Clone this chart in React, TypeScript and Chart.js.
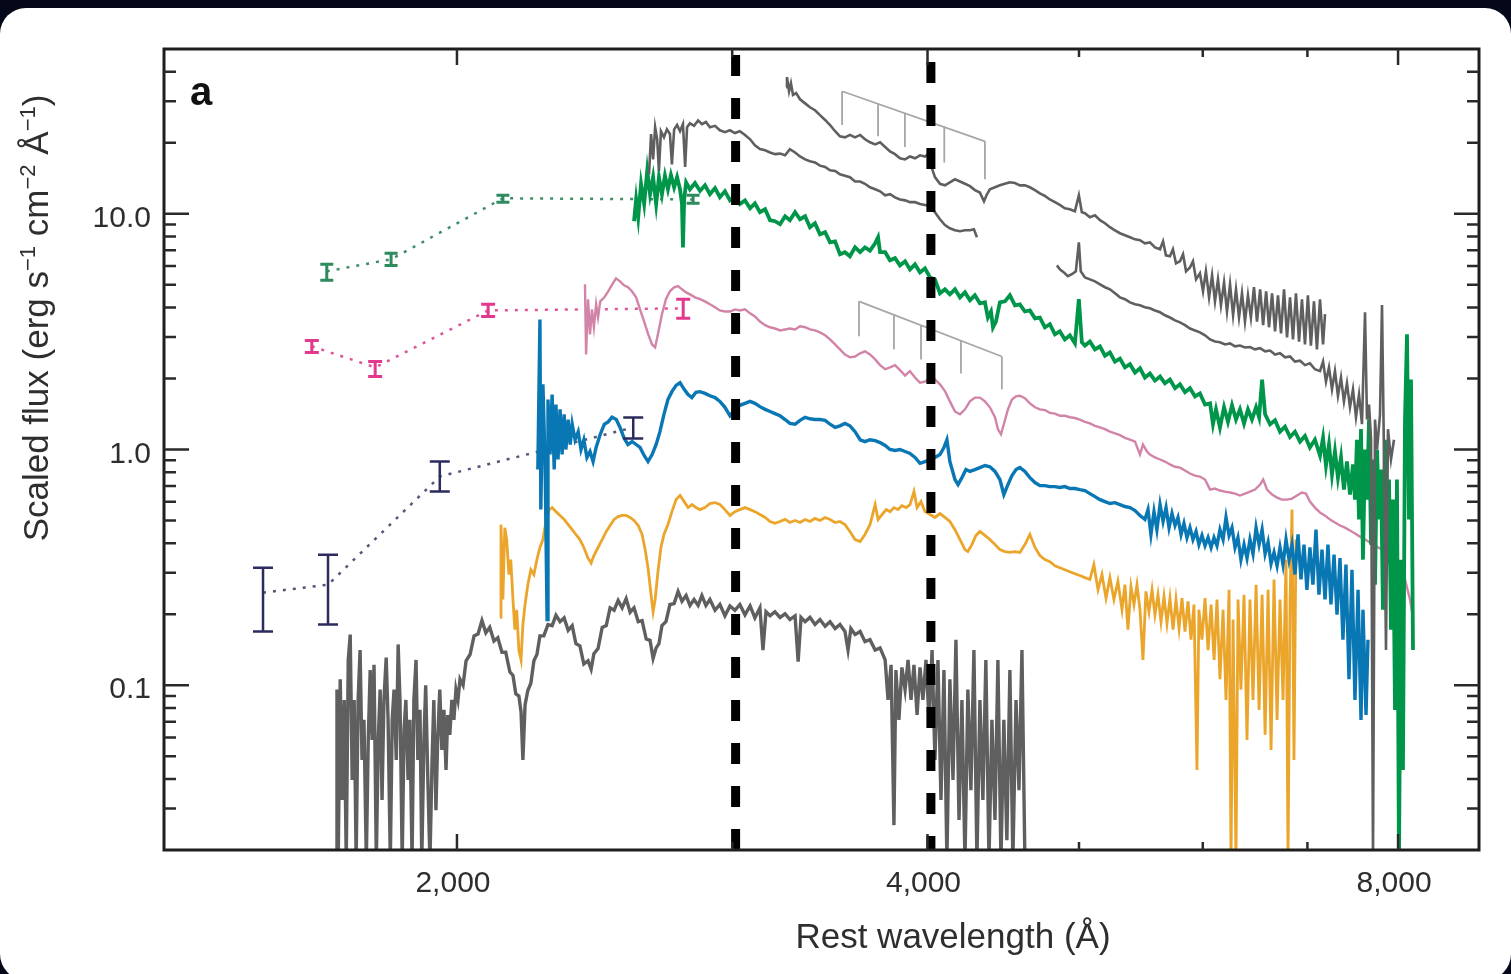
import React, { useEffect, useRef } from 'react';
import { Chart, registerables } from 'chart.js';

Chart.register(...registerables);

// ---------- axis definitions ----------
const xMin = 1299;
const xMax = 9013;
const yMin = 0.02;
const yMax = 50;
const xMajorTicks = [2000, 4000, 8000];
const xMajorLabels = ['2,000', '4,000', '8,000'];
const xMinorTicks = [3000, 5000, 6000, 7000];
const yMajorTicks = [0.1, 1, 10];
const yMajorLabels = ['0.1', '1.0', '10.0'];
const yMinorTicks = [0.03, 0.04, 0.05, 0.06, 0.07, 0.08, 0.09, 0.2, 0.3, 0.4, 0.5, 0.6, 0.7, 0.8, 0.9, 2, 3, 4, 5, 6, 7, 8, 9, 20, 30, 40];
const xTitle = 'Rest wavelength (Å)';
const panelLabel = 'a';

// ---------- vertical marker lines (Å) ----------
const markerWaves = [3015, 4020];

// ---------- line-identification combs ----------
const combUpperWave = [3527, 3719, 3869, 4100, 4353];
const combUpperTop = [33.1, 29.2, 26.7, 23.5, 20.3];
const combUpperBottom = [23.8, 21.3, 19.2, 16.5, 14.0];
const combLowerWave = [3616, 3807, 3962, 4202, 4463];
const combLowerTop = [4.25, 3.73, 3.37, 2.9, 2.48];
const combLowerBottom = [3.02, 2.66, 2.41, 2.1, 1.8];

// ---------- photometry ----------
const photGreenWave = [1651, 1815, 2140, 2832];
const photGreenFlux = [5.7, 6.41, 11.63, 11.5];
const photGreenLow = [5.22, 6.04, 11.19, 11.07];
const photGreenHigh = [6.1, 6.8, 11.98, 11.98];

const photPinkWave = [1615, 1773, 2094, 2791];
const photPinkFlux = [2.74, 2.23, 3.89, 3.97];
const photPinkLow = [2.58, 2.04, 3.67, 3.6];
const photPinkHigh = [2.9, 2.36, 4.13, 4.34];

const photNavyWave = [1503, 1654, 1950, 2593];
const photNavyFlux = [0.247, 0.267, 0.768, 1.24];
const photNavyLow = [0.169, 0.181, 0.663, 1.114];
const photNavyHigh = [0.315, 0.358, 0.889, 1.367];

// ---------- spectra: [wavelength Å, scaled flux] ----------
const grayTopA = [[2654,14.7],[2662,21.8],[2670,17.0],[2678,23.3],[2686,20.7],[2693,15.2],[2701,22.4],[2713,21.1],[2725,22.8],[2737,21.8],[2745,16.2],[2754,22.8],[2766,23.8],[2778,22.4],[2790,24.0],[2799,15.8],[2807,23.3],[2819,24.2],[2836,23.6],[2853,24.9],[2869,24.0],[2886,24.5],[2903,23.3],[2925,23.6],[2946,22.6],[2968,22.2],[2990,22.6],[3012,22.0],[3034,22.4],[3057,21.6],[3080,20.7],[3102,19.5],[3125,18.8],[3149,18.6],[3172,18.2],[3195,17.9],[3219,18.0],[3243,17.7],[3266,18.8],[3291,18.2],[3315,17.5],[3340,17.0],[3364,16.7],[3389,16.5],[3414,16.0],[3440,15.8],[3465,15.3],[3491,15.2],[3516,14.7],[3542,14.5],[3568,14.3],[3595,13.7],[3622,13.7],[3648,13.4],[3675,12.95],[3703,12.7],[3730,12.45],[3758,11.98],[3785,12.1],[3813,11.74],[3841,11.5],[3870,11.4],[3898,11.2],[3927,11.2],[3956,11.0],[3985,10.9],[4015,10.8],[4044,10.15],[4074,9.48],[4104,8.95],[4134,8.68],[4165,8.51],[4196,8.43],[4227,8.51],[4258,8.51],[4283,8.6],[4302,7.95]];

const grayTopB = [[3248,34.4],[3252,38.0],[3262,33.1],[3271,35.8],[3281,31.9],[3296,32.5],[3315,30.6],[3340,29.4],[3364,28.3],[3389,27.5],[3414,26.2],[3440,25.0],[3465,23.8],[3491,22.4],[3516,21.3],[3542,21.1],[3568,21.6],[3595,21.1],[3622,21.6],[3648,20.7],[3675,20.1],[3703,19.7],[3730,20.1],[3758,19.2],[3785,18.4],[3813,17.9],[3841,17.2],[3870,17.0],[3898,17.5],[3927,17.2],[3956,17.7],[3985,17.5],[4003,17.9],[4027,15.5],[4044,14.3],[4074,13.4],[4104,13.2],[4134,13.6],[4165,14.0],[4196,13.7],[4227,13.4],[4258,13.1],[4289,12.6],[4321,12.3],[4347,11.3],[4366,12.1],[4385,12.7],[4418,12.95],[4450,13.2],[4483,13.4],[4516,13.6],[4550,13.5],[4583,13.2],[4617,13.2],[4651,12.95],[4686,12.6],[4720,12.2],[4755,11.9],[4790,11.5],[4826,11.2],[4861,10.9],[4897,10.55],[4933,10.45],[4970,10.25],[4999,11.98],[5021,10.15],[5044,10.05],[5081,9.66],[5119,9.85],[5157,9.39],[5195,9.12],[5233,8.77],[5272,8.51],[5311,8.27],[5350,8.11],[5390,7.95],[5430,7.79],[5470,7.72],[5510,7.49],[5551,7.56],[5592,7.2],[5634,7.07],[5659,7.64],[5683,6.66],[5717,6.6],[5742,7.07],[5768,6.16],[5802,6.29],[5828,6.73],[5854,5.7],[5888,5.92],[5914,6.29],[5941,5.27],[5975,5.59],[6002,4.69],[6028,5.7],[6056,4.42],[6083,5.48],[6109,4.25],[6136,5.27],[6163,4.09],[6191,5.11],[6218,3.85],[6246,5.02],[6274,3.71],[6301,4.78],[6329,3.63],[6357,4.6],[6385,3.49],[6413,4.51],[6441,3.63],[6470,4.88],[6499,3.49],[6529,4.78],[6558,3.37],[6587,4.69],[6615,3.3],[6645,4.6],[6674,3.17],[6703,4.51],[6733,3.11],[6763,4.78],[6793,2.99],[6823,4.42],[6853,2.93],[6883,4.6],[6914,2.87],[6944,4.34],[6975,2.79],[7005,4.51],[7036,2.76],[7068,4.25],[7099,2.66],[7131,4.34],[7163,2.79],[7184,3.75]];

const grayMidC = [[4840,6.04],[4861,5.81],[4890,5.64],[4918,5.43],[4948,5.54],[4977,5.7],[4999,7.56],[5013,5.7],[5044,5.37],[5081,5.27],[5119,5.17],[5157,5.02],[5195,4.88],[5233,4.78],[5272,4.6],[5311,4.42],[5350,4.34],[5390,4.21],[5430,4.13],[5470,4.09],[5510,4.01],[5551,3.97],[5592,3.89],[5634,3.82],[5675,3.71],[5717,3.63],[5760,3.53],[5802,3.46],[5845,3.37],[5888,3.26],[5932,3.2],[5975,3.14],[6020,3.05],[6065,2.93],[6109,2.87],[6154,2.85],[6200,2.79],[6246,2.82],[6292,2.74],[6338,2.76],[6385,2.71],[6432,2.72],[6480,2.66],[6529,2.69],[6577,2.61],[6625,2.63],[6674,2.53],[6723,2.56],[6773,2.46],[6823,2.48],[6873,2.36],[6924,2.38],[6975,2.28],[7026,2.32],[7078,2.19],[7131,2.15],[7163,2.36],[7194,1.94],[7226,2.23],[7258,1.8],[7290,2.15],[7322,1.69],[7355,2.02],[7387,1.6],[7420,1.91],[7453,1.51],[7486,1.8],[7519,1.37],[7553,1.71],[7586,1.28],[7620,3.82],[7642,1.34],[7665,1.55],[7688,1.1],[7710,0.018],[7733,1.34],[7756,1.0],[7790,1.41],[7813,4.1],[7835,1.0],[7859,0.141],[7882,1.22],[7917,0.907],[7952,1.1]];

const greenSpec = [[2596,9.3],[2604,11.5],[2612,9.66],[2623,13.4],[2635,11.0],[2647,15.2],[2658,12.1],[2670,14.3],[2682,11.0],[2693,14.3],[2705,12.1],[2717,14.5],[2729,12.7],[2741,14.6],[2754,12.95],[2766,14.3],[2778,12.7],[2786,11.0],[2790,7.2],[2795,11.5],[2803,13.6],[2819,12.7],[2840,13.5],[2861,12.5],[2882,13.2],[2903,12.1],[2925,12.85],[2946,11.75],[2968,12.45],[2990,11.4],[3012,11.9],[3034,11.0],[3057,11.4],[3080,10.55],[3102,11.07],[3125,10.15],[3149,10.45],[3172,9.39],[3195,9.3],[3219,9.03],[3243,9.76],[3266,9.39],[3291,10.15],[3315,9.48],[3340,9.76],[3364,8.77],[3389,9.12],[3414,8.19],[3440,8.35],[3465,7.56],[3491,7.64],[3516,6.73],[3542,6.87],[3568,6.6],[3595,7.2],[3622,6.87],[3648,7.2],[3675,6.98],[3703,7.49],[3719,7.95],[3730,6.87],[3758,6.87],[3785,6.35],[3813,6.48],[3841,6.04],[3870,6.29],[3898,5.81],[3927,6.1],[3956,5.64],[3985,5.87],[4015,5.37],[4044,5.27],[4074,4.6],[4104,4.78],[4134,4.55],[4165,4.78],[4196,4.42],[4227,4.64],[4258,4.3],[4289,4.51],[4321,4.17],[4353,4.21],[4372,3.63],[4392,3.85],[4405,3.3],[4424,3.49],[4450,4.21],[4483,4.25],[4516,4.51],[4550,4.09],[4583,4.13],[4617,3.85],[4651,3.89],[4686,3.6],[4720,3.63],[4755,3.3],[4790,3.4],[4826,3.08],[4861,3.17],[4897,2.93],[4933,3.05],[4970,2.82],[4999,4.34],[5021,2.85],[5044,2.76],[5081,2.87],[5119,2.66],[5157,2.74],[5195,2.5],[5233,2.58],[5272,2.36],[5311,2.43],[5350,2.23],[5390,2.3],[5430,2.12],[5470,2.21],[5510,2.02],[5551,2.1],[5592,1.96],[5634,2.04],[5675,1.91],[5717,1.98],[5760,1.82],[5802,1.89],[5845,1.75],[5888,1.82],[5932,1.68],[5975,1.73],[6020,1.55],[6065,1.57],[6091,1.28],[6118,1.48],[6154,1.24],[6191,1.51],[6227,1.31],[6264,1.54],[6301,1.34],[6338,1.48],[6376,1.29],[6413,1.48],[6451,1.34],[6490,1.51],[6519,1.37],[6548,1.98],[6577,1.41],[6625,1.28],[6674,1.33],[6723,1.19],[6773,1.25],[6823,1.13],[6873,1.19],[6924,1.08],[6975,1.14],[7026,1.02],[7078,1.1],[7131,0.943],[7163,1.12],[7194,0.855],[7226,1.05],[7258,0.783],[7290,0.981],[7322,0.76],[7355,0.925],[7387,0.676],[7420,0.889],[7453,0.644],[7486,0.864],[7508,0.613],[7530,1.1],[7553,0.505],[7575,1.22],[7597,0.341],[7620,1.0],[7642,0.613],[7665,1.34],[7688,0.395],[7710,0.907],[7733,0.267],[7756,1.0],[7779,0.505],[7801,0.822],[7824,0.209],[7847,1.1],[7870,0.325],[7894,0.746],[7917,0.172],[7940,0.613],[7964,0.0786],[7987,0.746],[8011,0.018],[8035,0.341],[8058,0.0437],[8082,1.34],[8106,3.08],[8130,0.505],[8154,1.98],[8178,0.141]];

const pinkSpec = [[2415,5.02],[2419,2.53],[2426,4.34],[2433,3.08],[2440,3.93],[2447,3.3],[2455,4.13],[2462,3.63],[2470,4.25],[2485,4.42],[2499,4.69],[2514,5.02],[2528,5.32],[2543,5.17],[2558,4.97],[2573,4.88],[2588,4.69],[2604,4.42],[2619,3.93],[2635,3.49],[2651,3.08],[2666,2.79],[2678,2.71],[2689,3.08],[2705,3.75],[2721,4.34],[2737,4.69],[2754,4.88],[2770,4.93],[2786,4.78],[2803,4.64],[2819,4.55],[2840,4.42],[2861,4.34],[2882,4.25],[2903,4.13],[2925,4.01],[2946,3.89],[2968,3.85],[2990,3.85],[3012,3.93],[3034,3.89],[3057,3.93],[3080,3.78],[3102,3.67],[3125,3.49],[3149,3.37],[3172,3.3],[3195,3.26],[3219,3.2],[3243,3.23],[3266,3.26],[3291,3.23],[3315,3.33],[3340,3.3],[3364,3.23],[3389,3.2],[3414,3.14],[3440,3.05],[3465,2.93],[3491,2.79],[3516,2.66],[3542,2.53],[3568,2.46],[3595,2.48],[3622,2.56],[3648,2.61],[3675,2.53],[3703,2.41],[3730,2.28],[3758,2.19],[3785,2.23],[3813,2.28],[3841,2.17],[3870,2.06],[3898,2.15],[3927,2.02],[3956,1.92],[3985,1.94],[4015,2.02],[4044,1.98],[4074,1.89],[4104,1.77],[4134,1.6],[4165,1.45],[4196,1.41],[4227,1.48],[4258,1.6],[4289,1.66],[4321,1.66],[4353,1.6],[4385,1.51],[4418,1.37],[4437,1.22],[4457,1.16],[4476,1.28],[4503,1.48],[4530,1.63],[4557,1.68],[4583,1.69],[4617,1.65],[4651,1.57],[4686,1.51],[4720,1.48],[4755,1.47],[4790,1.43],[4826,1.42],[4861,1.39],[4897,1.39],[4933,1.37],[4970,1.36],[5006,1.34],[5044,1.31],[5081,1.29],[5119,1.26],[5157,1.24],[5195,1.22],[5233,1.19],[5272,1.17],[5311,1.15],[5350,1.12],[5390,1.1],[5430,1.08],[5470,0.952],[5494,1.05],[5526,0.981],[5551,0.952],[5592,0.925],[5634,0.907],[5675,0.889],[5717,0.864],[5760,0.845],[5802,0.838],[5845,0.814],[5888,0.791],[5932,0.775],[5975,0.768],[6020,0.746],[6065,0.676],[6109,0.683],[6154,0.67],[6200,0.663],[6246,0.657],[6292,0.65],[6338,0.638],[6385,0.65],[6432,0.663],[6480,0.676],[6529,0.71],[6558,0.746],[6596,0.676],[6645,0.644],[6694,0.625],[6743,0.613],[6793,0.613],[6843,0.619],[6893,0.638],[6944,0.657],[6985,0.65],[7026,0.601],[7078,0.567],[7131,0.54],[7184,0.524],[7237,0.505],[7290,0.49],[7344,0.476],[7398,0.466],[7453,0.453],[7508,0.44],[7564,0.427],[7620,0.415],[7676,0.403],[7733,0.391],[7790,0.38],[7847,0.369],[7905,0.355],[7964,0.334],[8023,0.315],[8082,0.281],[8142,0.231],[8178,0.194]];

const blueSpec = [[2253,0.822],[2260,3.56],[2263,0.556],[2270,1.89],[2277,0.907],[2284,0.19],[2287,1.63],[2294,0.952],[2301,1.71],[2308,0.822],[2314,1.55],[2321,0.907],[2328,1.48],[2335,0.952],[2342,1.41],[2348,1.0],[2356,1.34],[2363,1.05],[2370,1.28],[2380,1.1],[2391,1.19],[2401,1.0],[2411,1.1],[2422,0.925],[2433,0.981],[2444,0.889],[2455,1.02],[2470,1.16],[2485,1.28],[2499,1.31],[2513,1.37],[2529,1.34],[2543,1.24],[2558,1.12],[2573,1.05],[2589,1.08],[2604,1.05],[2619,1.02],[2635,0.943],[2650,0.889],[2666,0.952],[2682,1.05],[2697,1.19],[2713,1.41],[2729,1.63],[2745,1.76],[2762,1.87],[2778,1.92],[2795,1.8],[2811,1.71],[2827,1.66],[2844,1.75],[2861,1.76],[2882,1.73],[2903,1.69],[2925,1.66],[2946,1.6],[2968,1.51],[2990,1.39],[3012,1.48],[3034,1.54],[3057,1.57],[3080,1.6],[3102,1.57],[3125,1.52],[3149,1.48],[3172,1.45],[3195,1.42],[3219,1.39],[3243,1.34],[3266,1.29],[3291,1.28],[3315,1.33],[3340,1.37],[3364,1.35],[3389,1.34],[3414,1.34],[3440,1.33],[3465,1.28],[3491,1.24],[3516,1.26],[3542,1.29],[3568,1.26],[3595,1.19],[3622,1.1],[3648,1.08],[3675,1.1],[3703,1.09],[3730,1.07],[3758,1.04],[3785,1.0],[3813,0.99],[3841,1.0],[3870,0.981],[3898,0.962],[3927,0.925],[3956,0.874],[3985,0.889],[4015,0.907],[4044,0.925],[4074,0.952],[4098,1.02],[4116,1.1],[4134,0.889],[4165,0.746],[4184,0.71],[4208,0.76],[4233,0.822],[4258,0.807],[4289,0.822],[4321,0.838],[4353,0.855],[4385,0.845],[4418,0.807],[4450,0.746],[4476,0.644],[4503,0.71],[4530,0.775],[4557,0.822],[4583,0.838],[4617,0.807],[4651,0.76],[4686,0.724],[4720,0.703],[4755,0.703],[4790,0.696],[4826,0.696],[4861,0.69],[4897,0.696],[4933,0.683],[4970,0.683],[5006,0.676],[5044,0.67],[5081,0.65],[5119,0.631],[5157,0.613],[5195,0.601],[5233,0.59],[5272,0.595],[5311,0.584],[5350,0.573],[5390,0.567],[5430,0.551],[5470,0.525],[5510,0.505],[5535,0.556],[5559,0.436],[5584,0.545],[5608,0.457],[5634,0.584],[5659,0.495],[5684,0.567],[5709,0.466],[5734,0.535],[5760,0.476],[5785,0.515],[5811,0.436],[5836,0.486],[5862,0.423],[5888,0.466],[5914,0.415],[5941,0.449],[5966,0.395],[5993,0.432],[6020,0.391],[6047,0.423],[6074,0.384],[6100,0.423],[6127,0.391],[6154,0.457],[6182,0.415],[6209,0.515],[6237,0.432],[6264,0.466],[6292,0.384],[6319,0.423],[6347,0.341],[6376,0.395],[6404,0.346],[6432,0.415],[6461,0.361],[6490,0.466],[6519,0.395],[6548,0.457],[6577,0.361],[6606,0.405],[6635,0.328],[6664,0.366],[6694,0.321],[6723,0.384],[6753,0.325],[6783,0.415],[6813,0.341],[6843,0.395],[6873,0.295],[6904,0.436],[6934,0.281],[6965,0.395],[6995,0.254],[7026,0.384],[7057,0.267],[7089,0.457],[7120,0.242],[7152,0.376],[7184,0.231],[7215,0.395],[7247,0.22],[7280,0.358],[7312,0.199],[7344,0.346],[7376,0.156],[7409,0.325],[7442,0.106],[7475,0.309],[7508,0.0866],[7542,0.254],[7575,0.0713],[7597,0.209],[7631,0.0748],[7653,0.156]];

const orangeSpec = [[2131,0.194],[2134,0.48],[2140,0.231],[2146,0.466],[2152,0.415],[2159,0.295],[2165,0.341],[2172,0.231],[2178,0.172],[2184,0.209],[2191,0.141],[2198,0.128],[2204,0.181],[2211,0.22],[2220,0.267],[2230,0.309],[2240,0.295],[2250,0.341],[2260,0.384],[2270,0.415],[2280,0.495],[2291,0.556],[2301,0.567],[2314,0.545],[2328,0.525],[2342,0.505],[2356,0.48],[2370,0.457],[2383,0.436],[2397,0.415],[2411,0.384],[2426,0.346],[2437,0.33],[2447,0.355],[2462,0.384],[2477,0.415],[2492,0.449],[2506,0.476],[2521,0.505],[2536,0.519],[2551,0.525],[2566,0.525],[2581,0.515],[2596,0.5],[2612,0.476],[2627,0.436],[2639,0.376],[2651,0.309],[2662,0.242],[2670,0.205],[2678,0.231],[2690,0.309],[2701,0.384],[2713,0.436],[2729,0.48],[2745,0.545],[2762,0.613],[2778,0.638],[2795,0.601],[2811,0.567],[2828,0.584],[2844,0.567],[2861,0.556],[2882,0.567],[2903,0.59],[2925,0.595],[2946,0.584],[2968,0.556],[2990,0.525],[3012,0.545],[3034,0.556],[3057,0.567],[3080,0.556],[3102,0.545],[3125,0.53],[3149,0.515],[3172,0.495],[3195,0.486],[3219,0.495],[3243,0.505],[3266,0.49],[3291,0.5],[3315,0.49],[3340,0.505],[3364,0.495],[3389,0.51],[3414,0.5],[3440,0.515],[3465,0.505],[3491,0.49],[3516,0.495],[3542,0.48],[3568,0.449],[3595,0.415],[3622,0.407],[3648,0.436],[3675,0.48],[3703,0.584],[3719,0.505],[3741,0.53],[3764,0.556],[3785,0.545],[3807,0.567],[3830,0.556],[3852,0.578],[3876,0.567],[3898,0.584],[3921,0.663],[3939,0.567],[3962,0.601],[3985,0.545],[4015,0.53],[4044,0.515],[4074,0.535],[4104,0.515],[4134,0.495],[4165,0.457],[4196,0.415],[4227,0.376],[4245,0.369],[4270,0.395],[4296,0.432],[4321,0.449],[4353,0.432],[4385,0.415],[4418,0.395],[4450,0.376],[4483,0.369],[4516,0.366],[4550,0.369],[4583,0.366],[4617,0.395],[4651,0.436],[4686,0.384],[4720,0.355],[4755,0.341],[4790,0.334],[4826,0.321],[4861,0.315],[4897,0.309],[4933,0.303],[4970,0.297],[5006,0.292],[5044,0.286],[5081,0.281],[5111,0.325],[5142,0.254],[5172,0.295],[5203,0.234],[5233,0.286],[5264,0.231],[5295,0.276],[5327,0.209],[5350,0.267],[5374,0.172],[5398,0.262],[5422,0.22],[5446,0.267],[5470,0.209],[5494,0.128],[5518,0.25],[5543,0.205],[5568,0.254],[5592,0.199],[5617,0.242],[5642,0.186],[5667,0.238],[5692,0.183],[5717,0.234],[5743,0.172],[5768,0.231],[5794,0.174],[5819,0.234],[5845,0.169],[5871,0.227],[5897,0.156],[5923,0.22],[5949,0.0437],[5966,0.209],[5993,0.156],[6020,0.234],[6047,0.141],[6074,0.22],[6101,0.128],[6127,0.231],[6154,0.106],[6182,0.209],[6209,0.0866],[6237,0.254],[6255,0.018],[6274,0.19],[6301,0.018],[6320,0.231],[6347,0.0958],[6376,0.242],[6404,0.0586],[6432,0.231],[6461,0.0866],[6490,0.267],[6519,0.0786],[6548,0.242],[6577,0.0616],[6606,0.254],[6635,0.0531],[6664,0.281],[6694,0.0713],[6723,0.231],[6753,0.0866],[6783,0.341],[6803,0.018],[6823,0.231],[6843,0.556],[6863,0.0482],[6883,0.415]];

const grayBottomD = [[1674,0.018],[1676,0.0958],[1679,0.018],[1684,0.106],[1689,0.0326],[1694,0.0866],[1699,0.018],[1704,0.128],[1709,0.164],[1714,0.0396],[1719,0.0866],[1724,0.018],[1729,0.0866],[1734,0.141],[1739,0.0482],[1744,0.0713],[1750,0.018],[1755,0.0586],[1760,0.116],[1765,0.0586],[1770,0.122],[1776,0.018],[1781,0.0586],[1786,0.0958],[1791,0.0326],[1796,0.0866],[1802,0.131],[1807,0.0713],[1813,0.018],[1818,0.0713],[1823,0.0958],[1829,0.0482],[1834,0.149],[1839,0.0866],[1845,0.018],[1850,0.0646],[1855,0.0866],[1861,0.0396],[1866,0.0713],[1872,0.018],[1877,0.0866],[1883,0.128],[1888,0.0482],[1894,0.0786],[1899,0.018],[1905,0.0586],[1910,0.1],[1916,0.0396],[1922,0.018],[1928,0.0482],[1933,0.0866],[1939,0.0295],[1944,0.0586],[1950,0.0958],[1956,0.0531],[1962,0.0786],[1968,0.0437],[1973,0.0748],[1979,0.0616],[1985,0.0866],[1991,0.0713],[1997,0.0958],[2003,0.0866],[2009,0.106],[2018,0.1],[2027,0.127],[2039,0.135],[2051,0.162],[2063,0.165],[2075,0.188],[2087,0.167],[2099,0.176],[2112,0.154],[2124,0.159],[2137,0.138],[2149,0.138],[2162,0.114],[2172,0.11],[2181,0.092],[2191,0.09],[2198,0.077],[2204,0.0482],[2211,0.0825],[2220,0.095],[2230,0.102],[2240,0.127],[2250,0.135],[2260,0.162],[2273,0.162],[2287,0.181],[2301,0.179],[2314,0.198],[2328,0.186],[2342,0.193],[2356,0.171],[2370,0.179],[2383,0.15],[2397,0.147],[2411,0.123],[2426,0.127],[2437,0.117],[2447,0.136],[2462,0.143],[2477,0.176],[2492,0.179],[2506,0.213],[2521,0.208],[2536,0.229],[2551,0.213],[2566,0.233],[2581,0.204],[2596,0.213],[2612,0.186],[2627,0.188],[2643,0.157],[2658,0.155],[2670,0.13],[2682,0.144],[2693,0.15],[2705,0.179],[2721,0.186],[2737,0.22],[2754,0.222],[2770,0.25],[2786,0.227],[2803,0.24],[2819,0.218],[2836,0.231],[2853,0.218],[2869,0.24],[2886,0.218],[2903,0.231],[2925,0.208],[2946,0.22],[2968,0.197],[2990,0.217],[3012,0.208],[3034,0.22],[3057,0.199],[3080,0.217],[3102,0.193],[3125,0.213],[3139,0.141],[3153,0.205],[3172,0.197],[3195,0.205],[3219,0.194],[3243,0.201],[3266,0.19],[3291,0.197],[3306,0.126],[3320,0.194],[3340,0.186],[3364,0.194],[3389,0.181],[3414,0.19],[3440,0.178],[3465,0.186],[3491,0.174],[3516,0.181],[3542,0.169],[3558,0.141],[3573,0.174],[3595,0.164],[3622,0.169],[3648,0.153],[3675,0.156],[3703,0.141],[3730,0.144],[3758,0.128],[3774,0.0866],[3791,0.122],[3807,0.0255],[3818,0.116],[3835,0.0713],[3852,0.119],[3870,0.0958],[3887,0.128],[3904,0.0866],[3921,0.122],[3939,0.0748],[3956,0.119],[3973,0.0866],[3991,0.128],[4009,0.0713],[4027,0.141],[4044,0.0482],[4062,0.128],[4080,0.0326],[4098,0.116],[4116,0.018],[4134,0.106],[4153,0.0396],[4171,0.156],[4190,0.0268],[4208,0.0866],[4227,0.018],[4245,0.0958],[4264,0.0359],[4283,0.141],[4302,0.018],[4321,0.0866],[4340,0.0326],[4359,0.128],[4379,0.018],[4398,0.0713],[4418,0.0268],[4437,0.128],[4457,0.018],[4476,0.0713],[4496,0.022],[4516,0.116],[4536,0.018],[4557,0.0866],[4577,0.0359],[4597,0.141],[4617,0.018]];

// ---------- styles ----------
const FONT = '"Liberation Sans", Arial, Helvetica, sans-serif';
const TEXT = '#2e2e2e';
const GRAY = '#5f5f5f';
const GREEN = '#00964a';
const PINK = '#d283a8';
const BLUE = '#0a77b5';
const ORANGE = '#eaa52a';

const toPts = (arr: number[][]) => arr.map(([x, y]) => ({ x, y }));

const photSeries = [
  { wave: photGreenWave, flux: photGreenFlux, low: photGreenLow, high: photGreenHigh, color: '#2e8b5e', line: '#3f8f66', cap: 13, width: 3 },
  { wave: photPinkWave, flux: photPinkFlux, low: photPinkLow, high: photPinkHigh, color: '#e2388e', line: '#e0559a', cap: 14, width: 3 },
  { wave: photNavyWave, flux: photNavyFlux, low: photNavyLow, high: photNavyHigh, color: '#2b2b5e', line: '#555577', cap: 20, width: 2.5 },
];

const spectrum = (data: number[][], color: string, width: number, order: number) => ({
  data: toPts(data),
  borderColor: color,
  borderWidth: width,
  showLine: true,
  pointRadius: 0,
  fill: false,
  tension: 0,
  order,
});

const decorPlugin = {
  id: 'decor',
  afterDatasetsDraw(chart: any) {
    const { ctx, scales } = chart;
    const xs = scales.x;
    const ys = scales.y;
    ctx.save();
    ctx.lineCap = 'butt';
    for (const s of photSeries) {
      ctx.strokeStyle = s.color;
      ctx.lineWidth = s.width;
      for (let i = 0; i < s.wave.length; i++) {
        const px = xs.getPixelForValue(s.wave[i]);
        const y1 = ys.getPixelForValue(s.low[i]);
        const y2 = ys.getPixelForValue(s.high[i]);
        ctx.beginPath();
        ctx.moveTo(px, y1);
        ctx.lineTo(px, y2);
        ctx.moveTo(px - s.cap / 2, y1);
        ctx.lineTo(px + s.cap / 2, y1);
        ctx.moveTo(px - s.cap / 2, y2);
        ctx.lineTo(px + s.cap / 2, y2);
        ctx.stroke();
      }
    }
    ctx.restore();
  },
  afterDraw(chart: any) {
    const { ctx, chartArea: a, scales } = chart;
    const xs = scales.x;
    const ys = scales.y;
    ctx.save();
    // frame
    ctx.strokeStyle = '#1e1e1e';
    ctx.lineWidth = 3;
    ctx.strokeRect(a.left, a.top, a.right - a.left, a.bottom - a.top);
    // ticks
    ctx.lineWidth = 2.5;
    ctx.strokeStyle = '#2a2a2a';
    ctx.beginPath();
    const yTick = (v: number, len: number) => {
      const py = ys.getPixelForValue(v);
      ctx.moveTo(a.left, py);
      ctx.lineTo(a.left + len, py);
      ctx.moveTo(a.right, py);
      ctx.lineTo(a.right - len, py);
    };
    yMajorTicks.forEach((v) => yTick(v, 25));
    yMinorTicks.forEach((v) => yTick(v, 12));
    const xTick = (v: number, len: number) => {
      const px = xs.getPixelForValue(v);
      ctx.moveTo(px, a.bottom);
      ctx.lineTo(px, a.bottom - len);
      ctx.moveTo(px, a.top);
      ctx.lineTo(px, a.top + len);
    };
    xMajorTicks.forEach((v) => xTick(v, 16));
    xMinorTicks.forEach((v) => xTick(v, 8));
    ctx.stroke();

    // tick labels
    ctx.fillStyle = TEXT;
    ctx.font = `30px ${FONT}`;
    ctx.textAlign = 'right';
    ctx.textBaseline = 'middle';
    yMajorTicks.forEach((v, i) => {
      ctx.fillText(yMajorLabels[i], 151, ys.getPixelForValue(v) + 5);
    });
    ctx.textAlign = 'center';
    ctx.textBaseline = 'alphabetic';
    xMajorTicks.forEach((v, i) => {
      ctx.fillText(xMajorLabels[i], xs.getPixelForValue(v) - 4, 892);
    });

    // x title
    ctx.font = `35px ${FONT}`;
    ctx.fillText(xTitle, 953, 948);

    // y title with superscripts
    const runs: [string, boolean][] = [
      ['Scaled flux (erg s', false],
      ['\u22121', true],
      [' cm', false],
      ['\u22122', true],
      [' Å', false],
      ['\u22121', true],
      [')', false],
    ];
    const normal = `35px ${FONT}`;
    const sup = `22px ${FONT}`;
    let total = 0;
    for (const [t, s] of runs) {
      ctx.font = s ? sup : normal;
      total += ctx.measureText(t).width;
    }
    ctx.save();
    ctx.translate(48, 318);
    ctx.rotate(-Math.PI / 2);
    ctx.textAlign = 'left';
    let cx = -total / 2;
    for (const [t, s] of runs) {
      ctx.font = s ? sup : normal;
      ctx.fillText(t, cx, s ? -13 : 0);
      cx += ctx.measureText(t).width;
    }
    ctx.restore();

    // panel label
    ctx.font = `bold 40px ${FONT}`;
    ctx.textAlign = 'left';
    ctx.fillStyle = '#111111';
    ctx.fillText(panelLabel, 190, 105);
    ctx.restore();
  },
};

export default function App() {
  const ref = useRef<HTMLCanvasElement>(null);
  useEffect(() => {
    const canvas = ref.current;
    if (!canvas) return;

    const datasets: any[] = [];
    // dashed marker lines
    const offsets = [37, 30];
    markerWaves.forEach((w, i) => {
      datasets.push({
        data: [{ x: w, y: yMax }, { x: w, y: yMin }],
        borderColor: '#000000',
        borderWidth: 9,
        borderDash: [21, 22],
        borderDashOffset: offsets[i],
        showLine: true,
        pointRadius: 0,
        order: 0,
      });
    });
    // combs
    const combs = [
      { w: combUpperWave, t: combUpperTop, b: combUpperBottom },
      { w: combLowerWave, t: combLowerTop, b: combLowerBottom },
    ];
    combs.forEach((c) => {
      const n = c.w.length - 1;
      datasets.push({
        data: [{ x: c.w[0], y: c.t[0] }, { x: c.w[n], y: c.t[n] }],
        borderColor: '#a6a6a6', borderWidth: 1.8, showLine: true, pointRadius: 0, order: 1,
      });
      c.w.forEach((w, i) => {
        datasets.push({
          data: [{ x: w, y: c.t[i] }, { x: w, y: c.b[i] }],
          borderColor: '#a6a6a6', borderWidth: 1.8, showLine: true, pointRadius: 0, order: 1,
        });
      });
    });
    // spectra
    datasets.push(spectrum(grayTopA, GRAY, 2.6, 2));
    datasets.push(spectrum(grayTopB, GRAY, 2.6, 2));
    datasets.push(spectrum(grayMidC, GRAY, 2.6, 2));
    datasets.push(spectrum(grayBottomD, GRAY, 3.4, 3));
    datasets.push(spectrum(greenSpec, GREEN, 3.8, 4));
    datasets.push(spectrum(blueSpec, BLUE, 3.4, 5));
    datasets.push(spectrum(pinkSpec, PINK, 2.4, 6));
    datasets.push(spectrum(orangeSpec, ORANGE, 2.8, 7));
    // photometry dotted connectors
    photSeries.forEach((s) => {
      datasets.push({
        data: s.wave.map((w, i) => ({ x: w, y: s.flux[i] })),
        borderColor: s.line,
        borderWidth: 2.5,
        borderDash: [3, 7],
        showLine: true,
        pointRadius: 0,
        order: 9,
      });
    });

    const chart = new Chart(canvas, {
      type: 'scatter',
      data: { datasets },
      options: {
        animation: false,
        responsive: false,
        maintainAspectRatio: false,
        devicePixelRatio: 1,
        events: [],
        layout: { padding: { left: 164, top: 49, right: 32, bottom: 124 } },
        plugins: { legend: { display: false }, tooltip: { enabled: false } },
        scales: {
          x: { type: 'logarithmic', min: xMin, max: xMax, display: false },
          y: { type: 'logarithmic', min: yMin, max: yMax, display: false },
        },
      },
      plugins: [decorPlugin],
    } as any);
    return () => chart.destroy();
  }, []);

  return (
    <div style={{ position: 'fixed', left: 0, top: 0, width: 1511, height: 974, background: '#050818', overflow: 'hidden' }}>
      <div style={{ position: 'absolute', left: 0, top: 8, width: 1511, height: 972, background: '#ffffff', borderRadius: 26 }} />
      <canvas ref={ref} width={1511} height={974} style={{ position: 'absolute', left: 0, top: 0, width: 1511, height: 974 }} />
    </div>
  );
}
